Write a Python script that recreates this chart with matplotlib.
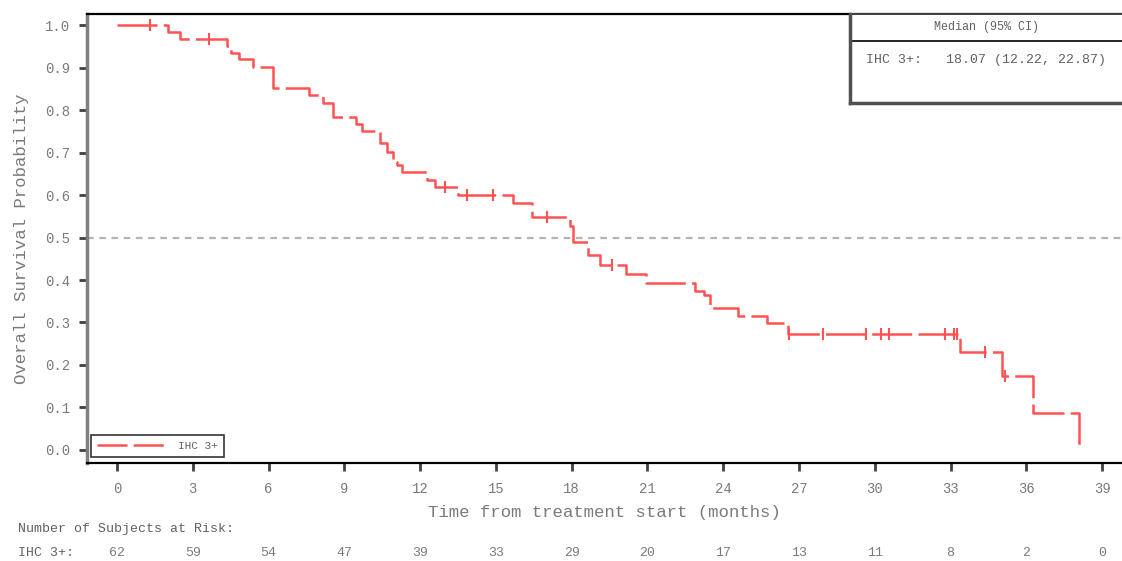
import numpy as np
import matplotlib
matplotlib.use('Agg')
import matplotlib.pyplot as plt
from matplotlib.lines import Line2D
from matplotlib.patches import Rectangle

plt.rcParams['font.family'] = ['Liberation Mono', 'DejaVu Sans Mono']

# Kaplan-Meier steps (months, survival)
event_times = [2.03, 2.49, 4.34, 4.50, 4.84, 5.37, 6.19, 7.60, 8.14, 8.54, 9.45, 9.69,
               10.41, 10.68, 10.94, 11.07, 11.27, 12.26, 12.59, 13.51, 15.69, 16.41,
               17.95, 18.07, 18.66, 19.12, 20.17, 20.96, 22.88, 23.24, 23.48, 24.60,
               25.72, 26.55, 33.37, 35.02, 36.27, 38.09]
survival = [0.984, 0.968, 0.951, 0.935, 0.919, 0.902, 0.852, 0.835, 0.816, 0.784, 0.767, 0.751,
            0.722, 0.702, 0.678, 0.671, 0.653, 0.636, 0.619, 0.600, 0.582, 0.549,
            0.527, 0.490, 0.459, 0.435, 0.413, 0.394, 0.374, 0.365, 0.333, 0.315,
            0.298, 0.274, 0.231, 0.173, 0.088, 0.0]
censor_times = [1.31, 3.66, 12.98, 13.87, 14.90, 17.01, 19.60, 26.62, 27.96, 29.65,
                30.23, 30.57, 32.78, 33.14, 33.27, 34.36, 35.15]

risk_times = [0, 3, 6, 9, 12, 15, 18, 21, 24, 27, 30, 33, 36, 39]
at_risk = [62, 59, 54, 47, 39, 33, 29, 20, 17, 13, 11, 8, 2, 0]
y_ticks = [0.0, 0.1, 0.2, 0.3, 0.4, 0.5, 0.6, 0.7, 0.8, 0.9, 1.0]

group = 'IHC 3+'
median_text = 'IHC 3+:   18.07 (12.22, 22.87)'

red = '#ff5252'
txt = '#7a7a7a'

t = np.concatenate([[0.0], event_times])
s = np.concatenate([[1.0], survival])
idx = np.searchsorted(t, censor_times, side='right') - 1
censor_s = s[idx]

fig = plt.figure(figsize=(11.22, 5.61), dpi=100)
ax = fig.add_axes([87 / 1122, 1 - 463 / 561, 1 - 87 / 1122, 449 / 561])

ax.axhline(0.5, color='#b4b4b4', lw=1.6, ls=(0, (3, 2.5)), zorder=1)
ax.step(t, s, where='post', color=red, lw=1.8, ls=(0, (16, 2.5)), zorder=3)
ax.plot(censor_times, censor_s, ls='none', marker='|', ms=9, mew=1.5, color=red, zorder=4)

ax.set_xlim(-1.19, 39.79)
ax.set_ylim(-0.0306, 1.0259)
ax.set_xticks(risk_times)
ax.set_yticks(y_ticks)
ax.set_yticklabels([f'{v:.1f}' for v in y_ticks])
ax.tick_params(direction='out', length=6, width=2, color='#404040', labelsize=10,
               labelcolor=txt, pad=6)
ax.tick_params(axis='x', pad=8)
for side in ['top', 'bottom']:
    ax.spines[side].set_linewidth(1.6)
    ax.spines[side].set_color('black')
ax.spines['left'].set_linewidth(2.5)
ax.spines['left'].set_color('#808080')
ax.spines['right'].set_visible(False)

ax.set_xlabel('Time from treatment start (months)', fontsize=12.5, color=txt, labelpad=6)
ax.set_ylabel('Overall Survival Probability', fontsize=12.5, color=txt, labelpad=12)

# legend
h = Line2D([0], [0], color=red, lw=1.8, ls=(0, (12, 2.5)))
leg = ax.legend([h], [group], loc='lower left', fontsize=8, frameon=True, fancybox=False,
                edgecolor='black', handlelength=6.5, borderaxespad=0.35, borderpad=0.55,
                bbox_to_anchor=(0.0, 0.005))
leg.get_frame().set_linewidth(1.2)
for tx in leg.get_texts():
    tx.set_color('#606060')

# median box in upper right
bx, by = (850 - 87) / 1035, (463 - 103) / 449
ax.add_patch(Rectangle((bx, by), 1.1 - bx, 1 - by, transform=ax.transAxes, fill=True,
                       facecolor='white', edgecolor='#404040', lw=1.4, clip_on=False, zorder=5))
ax.plot([bx, 1.0], [(463 - 41) / 449] * 2, transform=ax.transAxes, color='black', lw=1.2,
        clip_on=False, zorder=6)
ax.plot([bx, 1.0], [by, by], transform=ax.transAxes, color='#505050', lw=2.5,
        clip_on=False, zorder=6)
ax.plot([bx, bx], [by, 1.0], transform=ax.transAxes, color='#505050', lw=2.5,
        clip_on=False, zorder=6)
ax.text((987 - 87) / 1035, (463 - 27) / 449, 'Median (95% CI)', transform=ax.transAxes,
        ha='center', va='center', fontsize=8.5, color='#606060', zorder=7)
ax.text((866 - 87) / 1035, (463 - 60) / 449, median_text, transform=ax.transAxes,
        ha='left', va='center', fontsize=9.5, color='#606060', zorder=7)

# number at risk table
fig.text(18 / 1122, 1 - 529 / 561, 'Number of Subjects at Risk:', fontsize=9.5,
         color='#606060', ha='left', va='center')
fig.text(18 / 1122, 1 - 553 / 561, 'IHC 3+:', fontsize=9.5, color='#606060',
         ha='left', va='center')
for xt, n in zip(risk_times, at_risk):
    xf = fig.transFigure.inverted().transform(ax.transData.transform((xt, 0)))[0]
    fig.text(xf, 1 - 553 / 561, str(n), fontsize=9.5, color=txt, ha='center', va='center')

fig.savefig('out.png', dpi=100)
